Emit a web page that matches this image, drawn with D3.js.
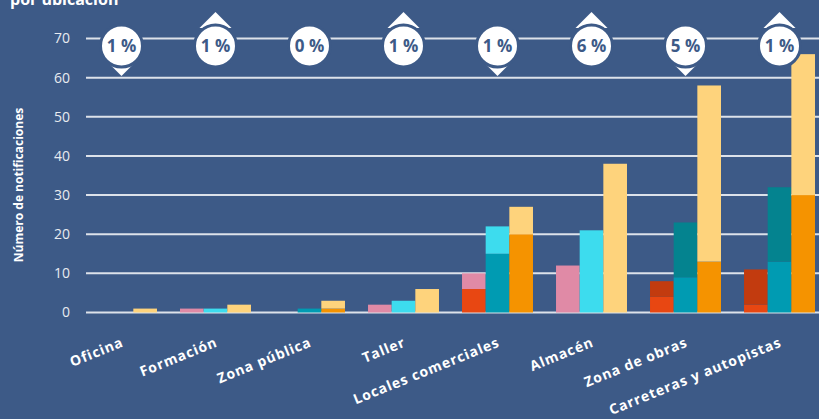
<!DOCTYPE html>
<html><head><meta charset="utf-8">
<script src="https://cdn.jsdelivr.net/npm/d3@7/dist/d3.min.js"></script>
<style>
html,body{margin:0;padding:0;background:#3d5a87;}
svg{display:block;}
</style></head>
<body>
<svg id="chart" width="819" height="419"></svg>
<script>
const categories = ["Oficina","Formación","Zona pública","Taller","Locales comerciales","Almacén","Zona de obras","Carreteras y autopistas"];
// left bar (reds): base, middle, top
const redBase  = [0,0,0,0,6,0,4,2];
const redMid   = [0,0,0,0,0,0,4,9];
const redTop   = [0,1,0,2,4,12,0,0];
// middle bar (blues)
const blueBase = [0,0,1,0,15,0,9,13];
const blueMid  = [0,0,0,0,0,0,14,19];
const blueTop  = [0,1,0,3,7,21,0,0];
// right bar (yellows)
const yelBase  = [0,0,1,0,20,0,13,30];
const yelTop   = [1,2,2,6,7,38,45,36];
// bubbles
const pctLabels = ["1 %","1 %","0 %","1 %","1 %","6 %","5 %","1 %"];
const trend = ["down","up","none","up","down","up","down","up"];
const yTicks = [0,10,20,30,40,50,60,70];

const bg = "#3d5a87";
const svg = d3.select("#chart");
svg.append("rect").attr("width",819).attr("height",419).attr("fill",bg);

const x = d3.scaleBand().domain(categories).range([86,815]).paddingInner(0.245).paddingOuter(0);
const sub = d3.scaleBand().domain(["r","b","y"]).range([0,x.bandwidth()]);
const y = d3.scaleLinear().domain([0,70]).range([312.5,38.5]);

// gridlines
svg.append("g").selectAll("line").data(yTicks).join("line")
  .attr("x1",86).attr("x2",819)
  .attr("y1",d=>y(d)).attr("y2",d=>y(d))
  .attr("stroke","#dde2ea").attr("stroke-width",2);

// y tick labels
svg.append("g").selectAll("text").data(yTicks).join("text")
  .attr("x",70).attr("y",d=>y(d)).attr("dy","0.35em")
  .attr("text-anchor","end")
  .attr("font-family","'Open Sans', sans-serif").attr("font-size",14)
  .attr("fill","#e8ebf0").text(d=>d);

// y axis title
svg.append("text")
  .attr("transform","translate(23,185) rotate(-90)")
  .attr("text-anchor","middle")
  .attr("font-family","'Open Sans', sans-serif").attr("font-size",12).attr("font-weight","bold")
  .attr("fill","#ffffff").text("Número de notificaciones");

// title fragment (cut off at top, as in the reference)
svg.append("text").attr("x",10).attr("y",5)
  .attr("font-family","'Open Sans', sans-serif").attr("font-size",16).attr("font-weight","bold")
  .attr("fill","#ffffff").text("por ubicación");

// bars
const barDefs = [
  {key:"r", segs:[{v:redBase,c:"#e84712"},{v:redMid,c:"#c23b0f"},{v:redTop,c:"#e08aa6"}]},
  {key:"b", segs:[{v:blueBase,c:"#009bb2"},{v:blueMid,c:"#04838f"},{v:blueTop,c:"#3ddcee"}]},
  {key:"y", segs:[{v:yelBase,c:"#f59300"},{v:yelTop,c:"#fed37c"}]}
];
const rects = [];
categories.forEach((cat,i)=>{
  barDefs.forEach(b=>{
    let acc = 0;
    b.segs.forEach(s=>{
      const v = s.v[i];
      if (v>0) rects.push({cat, key:b.key, y0:acc, y1:acc+v, c:s.c});
      acc += v;
    });
  });
});
svg.append("g").selectAll("rect").data(rects).join("rect")
  .attr("x",d=>x(d.cat)+sub(d.key))
  .attr("width",sub.bandwidth())
  .attr("y",d=>y(d.y1))
  .attr("height",d=>y(d.y0)-y(d.y1))
  .attr("fill",d=>d.c);

// x labels
svg.append("g").selectAll("text").data(categories).join("text")
  .attr("transform",d=>`translate(${x(d)+x.bandwidth()/2+3},346) rotate(-22)`)
  .attr("text-anchor","end")
  .attr("font-family","'Open Sans', sans-serif").attr("font-size",14).attr("font-weight","bold")
  .attr("letter-spacing","0.9px")
  .attr("fill","#ffffff").text(d=>d);

// bubbles
const cy = 46, r = 21;
const bub = svg.append("g").selectAll("g").data(categories).join("g")
  .attr("transform",d=>`translate(${x(d)+x.bandwidth()/2},${cy})`);
bub.filter((d,i)=>trend[i]==="up").append("path")
  .attr("d","M0,-34 L16,-18 L-16,-18 Z").attr("fill","#ffffff");
bub.filter((d,i)=>trend[i]==="down").append("path")
  .attr("d","M0,30 L16,14 L-16,14 Z").attr("fill","#ffffff");
bub.append("circle").attr("r",r).attr("fill","#ffffff").attr("stroke",bg).attr("stroke-width",3);
bub.append("text").attr("dy","0.36em").attr("text-anchor","middle")
  .attr("font-family","'Open Sans', sans-serif").attr("font-size",17).attr("font-weight","bold")
  .attr("fill","#3d5a87").text((d,i)=>pctLabels[i]);
</script>
</body></html>
